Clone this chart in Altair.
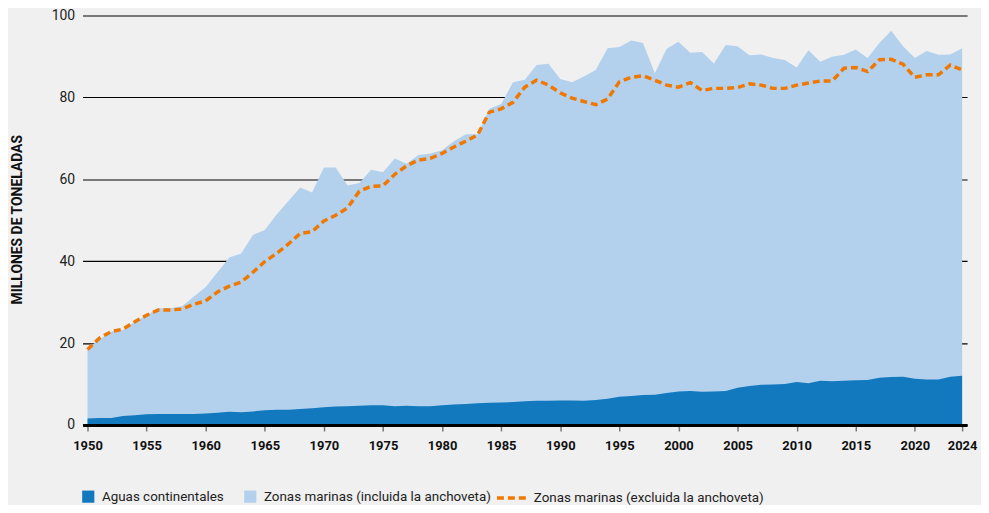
import altair as alt
import pandas as pd

years = list(range(1950, 2025))

total_marine = [
    18.8, 20.8, 22.8, 23.2, 25.2, 26.8, 28.5, 28.5, 29.0, 31.4,
    33.7, 37.3, 40.9, 41.9, 46.4, 47.6, 51.4, 54.7, 58.0, 56.8,
    62.9, 62.9, 58.5, 59.1, 62.3, 61.7, 65.1, 63.8, 65.9, 66.3,
    67.1, 69.3, 71.0, 71.0, 77.2, 78.4, 83.7, 84.3, 87.9, 88.2,
    84.5, 83.7, 85.1, 86.7, 92.0, 92.3, 93.9, 93.3, 85.9, 91.9,
    93.6, 90.9, 91.1, 88.3, 92.8, 92.5, 90.3, 90.5, 89.6, 89.1,
    87.3, 91.5, 88.7, 89.9, 90.4, 91.7, 89.6, 93.3, 96.3, 92.5,
    89.6, 91.3, 90.4, 90.5, 92.0,
]

excl_anchoveta = [
    18.4, 21.2, 22.8, 23.4, 25.2, 26.8, 28.1, 28.1, 28.3, 29.5,
    30.3, 32.5, 33.9, 34.9, 37.3, 39.9, 41.9, 44.2, 46.8, 47.2,
    49.8, 51.2, 53.0, 57.1, 58.3, 58.4, 61.2, 63.3, 64.7, 65.1,
    66.3, 67.9, 69.3, 70.8, 76.4, 77.2, 78.8, 82.5, 84.2, 83.0,
    81.1, 79.8, 79.0, 78.2, 79.6, 83.8, 84.9, 85.3, 84.2, 83.0,
    82.5, 83.6, 81.7, 82.2, 82.2, 82.4, 83.3, 83.0, 82.2, 82.2,
    83.0, 83.5, 84.0, 84.0, 87.1, 87.3, 86.3, 89.2, 89.3, 88.1,
    84.9, 85.5, 85.5, 87.9, 86.7,
]

inland = [
    1.6, 1.7, 1.7, 2.2, 2.4, 2.6, 2.7, 2.7, 2.7, 2.7,
    2.8, 3.0, 3.2, 3.1, 3.3, 3.6, 3.7, 3.7, 3.9, 4.1,
    4.3, 4.5, 4.6, 4.7, 4.8, 4.8, 4.6, 4.7, 4.6, 4.6,
    4.8, 5.0, 5.1, 5.3, 5.4, 5.5, 5.6, 5.8, 5.9, 5.9,
    6.0, 6.0, 5.9, 6.1, 6.4, 6.9, 7.1, 7.3, 7.4, 7.8,
    8.2, 8.3, 8.1, 8.2, 8.3, 9.1, 9.5, 9.8, 9.9, 10.0,
    10.5, 10.2, 10.8, 10.7, 10.8, 10.9, 11.0, 11.5, 11.7, 11.8,
    11.3, 11.1, 11.1, 11.8, 12.0,
]

series_names = [
    "Aguas continentales",
    "Zonas marinas (incluida la anchoveta)",
    "Zonas marinas (excluida la anchoveta)",
]
series_colors = ["#1279be", "#b3d1ed", "#f07800"]
x_ticks = [1950, 1955, 1960, 1965, 1970, 1975, 1980, 1985, 1990, 1995,
           2000, 2005, 2010, 2015, 2020, 2024]
y_ticks = [0, 20, 40, 60, 80, 100]

FONT = "Roboto"

df_marine = pd.DataFrame({"year": years, "value": total_marine, "serie": series_names[1]})
df_inland = pd.DataFrame({"year": years, "value": inland, "serie": series_names[0]})
df_line = pd.DataFrame({"year": years, "value": excl_anchoveta, "serie": series_names[2]})

x_enc = alt.X(
    "year:Q",
    scale=alt.Scale(domain=[1949.58, 2024.42], nice=False, zero=False),
    axis=alt.Axis(
        values=x_ticks, format="d", title=None, grid=False,
        domainColor="#000000", domainWidth=3, tickColor="#777777",
        tickWidth=1.5, tickSize=6, labelPadding=9, labelFont=FONT,
        labelFontSize=13, labelFontWeight="bold", labelColor="#111111",
        zindex=1,
    ),
)
y_enc = alt.Y(
    "value:Q",
    scale=alt.Scale(domain=[0, 100], nice=False),
    axis=alt.Axis(
        values=y_ticks, title="MILLONES DE TONELADAS", grid=True,
        gridColor="#000000", gridWidth=1.2, domain=False, ticks=False,
        labelPadding=8, labelFont=FONT, labelFontSize=14,
        labelColor="#222222", titleFont=FONT, titleFontSize=14,
        titleFontWeight="bold", titleColor="#111111", titleAngle=270,
        titleX=-61, titleY=205, titleAlign="center",
        titleBaseline="alphabetic", zindex=0,
    ),
)

color_enc = alt.Color(
    "serie:N",
    scale=alt.Scale(domain=series_names[:2], range=series_colors[:2]),
    legend=alt.Legend(
        title=None, orient="none", legendX=-1, legendY=477,
        direction="horizontal", symbolType="square", symbolSize=150,
        symbolStrokeWidth=0, symbolOpacity=1, labelFont=FONT,
        labelFontSize=13.5, labelColor="#222222", columnPadding=19,
        labelOffset=7, labelLimit=500,
    ),
)

area_marine = alt.Chart(df_marine).mark_area(opacity=1, interpolate="linear").encode(
    x=x_enc, y=y_enc, color=color_enc
)
area_inland = alt.Chart(df_inland).mark_area(opacity=1, interpolate="linear").encode(
    x=x_enc, y=y_enc, color=color_enc
)
line = alt.Chart(df_line).mark_line(strokeWidth=3.5, color=series_colors[2]).encode(
    x=x_enc,
    y=y_enc,
    strokeDash=alt.StrokeDash(
        "serie:N",
        scale=alt.Scale(domain=[series_names[2]], range=[[7, 4]]),
        legend=alt.Legend(
            title=None, orient="none", legendX=415, legendY=469,
            symbolType="stroke", symbolSize=841, symbolStrokeWidth=3.5,
            symbolStrokeColor=series_colors[2], labelFont=FONT,
            labelFontSize=13.5, labelColor="#222222", labelOffset=6,
            labelLimit=500,
        ),
    ),
)

chart = (
    alt.layer(area_marine, area_inland, line)
    .properties(
        width=890, height=412,
        autosize=alt.AutoSizeParams(type="none"),
        padding={"left": 75, "top": 6, "right": 14, "bottom": 79},
        background="#f0f0f0",
    )
    .configure_view(stroke=None)
)

chart.save("out.html", embed_options={"renderer": "svg", "actions": False})
